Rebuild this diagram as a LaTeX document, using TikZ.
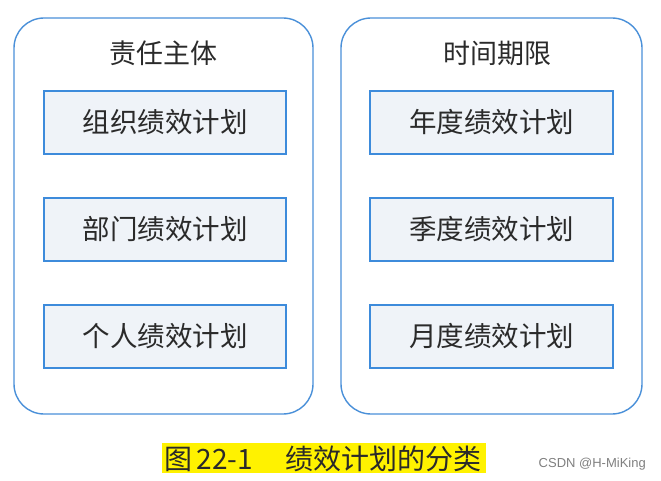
\documentclass[tikz,border=0pt]{standalone}
\usepackage{fontspec}
\newfontfamily\cjk{Noto Sans CJK SC}
\newfontfamily\wm{Liberation Sans}
\definecolor{outerblue}{HTML}{4A90D9}
\definecolor{innerblue}{HTML}{3D8BDB}
\definecolor{innerfill}{HTML}{EFF3F8}
\definecolor{txt}{HTML}{2A2A2A}
\definecolor{hl}{HTML}{FFF200}
\begin{document}
\begin{tikzpicture}[x=1pt,y=-1pt,
  outerbox/.style={draw=outerblue,line width=1.4pt,rounded corners=30pt},
  planbox/.style={draw=innerblue,line width=1.3pt,fill=innerfill,minimum width=242pt,minimum height=63pt,inner sep=0pt,font=\cjk\fontsize{27.5}{32}\selectfont,text=txt},
  header/.style={font=\cjk\fontsize{27}{32}\selectfont,text=txt,inner sep=0pt},
  captext/.style={font=\cjk\fontsize{28}{32}\selectfont,text=txt,inner sep=0pt,anchor=west}]
\useasboundingbox (0,0) rectangle (661,481);
\fill[white] (0,0) rectangle (661,481);
\draw[outerbox] (14,18) rectangle (313,414);
\draw[outerbox] (341,18) rectangle (642,414);
\node[header] (h1) at (163,53) {责任主体};
\node[header] (h2) at (497,53) {时间期限};
\node[planbox] (a1) at (165,122.5) {组织绩效计划};
\node[planbox] (a2) at (165,229.5) {部门绩效计划};
\node[planbox] (a3) at (165,336.5) {个人绩效计划};
\node[planbox,minimum width=243pt] (b1) at (491.5,122.5) {年度绩效计划};
\node[planbox,minimum width=243pt] (b2) at (491.5,229.5) {季度绩效计划};
\node[planbox,minimum width=243pt] (b3) at (491.5,336.5) {月度绩效计划};
\fill[hl] (162,443) rectangle (486,473);
\node[captext] (cap1) at (164,459) {图\,22-1};
\node[captext] (cap2) at (285,459) {绩效计划的分类};
\node[font=\wm\fontsize{13}{15}\selectfont,text=gray,inner sep=0pt,anchor=east] (wm) at (646,464) {CSDN @H-MiKing};
\end{tikzpicture}
\end{document}
